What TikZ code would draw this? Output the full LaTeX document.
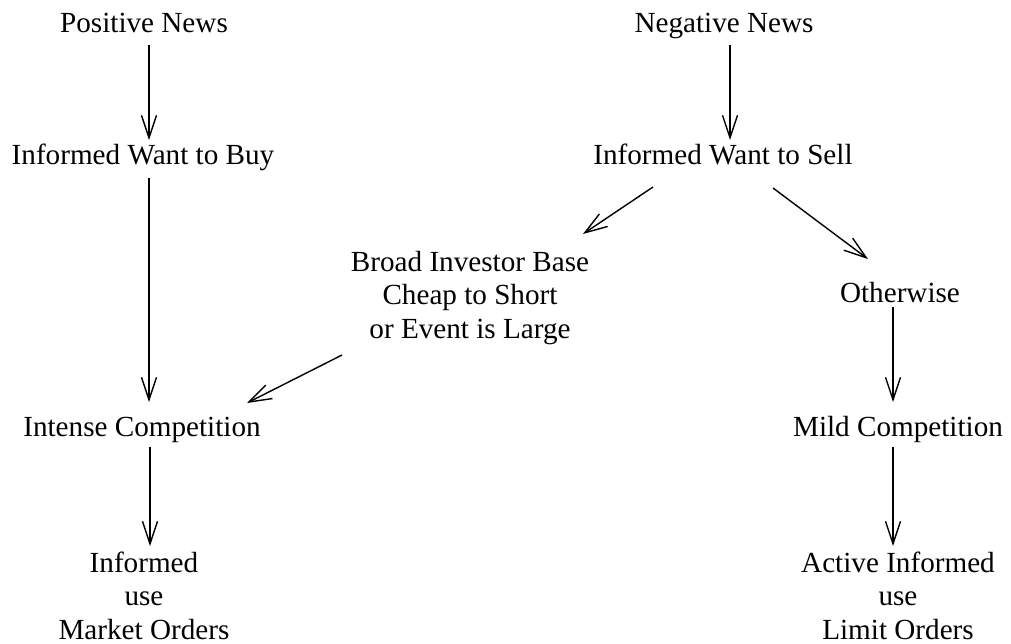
\documentclass[tikz,border=0pt]{standalone}
\usepackage{fontspec}
\setmainfont{Liberation Serif}
\usetikzlibrary{arrows.meta,calc}

\begin{document}
\begin{tikzpicture}[x=0.02cm,y=-0.02cm,t/.style={inner sep=0pt,anchor=base,align=center},arr/.style={-{Straight Barb[length=0.45cm,width=0.3cm]},line width=0.8pt},font=\fontsize{16.6}{19}\selectfont]
\useasboundingbox (0,0) rectangle (1011,643);
\node[t](pos) at (144,32){Positive News};\node[t](buy) at (143,164){Informed Want to Buy};
\node[t](intense) at (142,436){Intense Competition};\node[t](market) at (144,639){Informed\\use\\Market Orders};
\node[t](neg) at (724,32){Negative News};\node[t](sell) at (723,164){Informed Want to Sell};
\node[t](broad) at (470,338){Broad Investor Base\\Cheap to Short\\or Event is Large};
\node[t](other) at (900,302){Otherwise};\node[t](mild) at (898,436){Mild Competition};
\node[t](active) at (898,639){Active Informed\\use\\Limit Orders};
% left column
\draw[arr]($(pos.base)+(5,13)$)--($(buy.base)+(6,-24)$);
\draw[arr]($(buy.base)+(6,14)$)--($(intense.base)+(7,-34)$);
\draw[arr]($(intense.base)+(8,11)$)--($(market.base)+(6,-93)$);
% right column
\draw[arr]($(neg.base)+(6,13)$)--($(sell.base)+(7,-24)$);
\draw[arr]($(sell.base)+(-70,23)$)--($(broad.base)+(113,-104)$);
\draw[arr]($(sell.base)+(50,24)$)--($(other.base)+(-32,-43)$);
\draw[arr]($(broad.base)+(-128,17)$)--($(intense.base)+(105,-33)$);
\draw[arr]($(other.base)+(-7,5)$)--($(mild.base)+(-5,-34)$);
\draw[arr]($(mild.base)+(-5,11)$)--($(active.base)+(-5,-93)$);
\end{tikzpicture}
\end{document}
